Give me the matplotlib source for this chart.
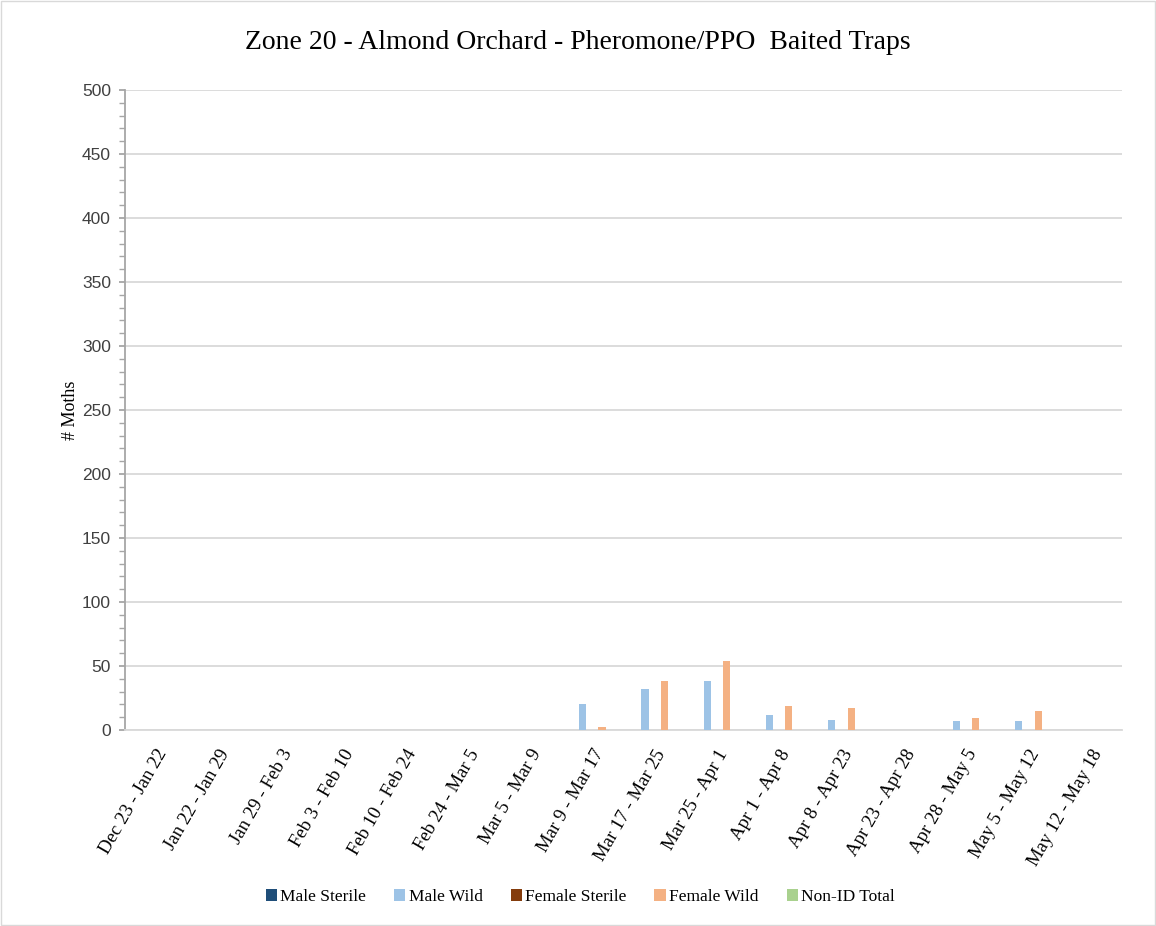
import matplotlib
matplotlib.use("Agg")
import matplotlib.pyplot as plt
import numpy as np
from matplotlib.ticker import MultipleLocator
from matplotlib.patches import Rectangle

categories = ["Dec 23 - Jan 22", "Jan 22 - Jan 29", "Jan 29 - Feb 3", "Feb 3 - Feb 10",
              "Feb 10 - Feb 24", "Feb 24 - Mar 5", "Mar 5 - Mar 9", "Mar 9 - Mar 17",
              "Mar 17 - Mar 25", "Mar 25 - Apr 1", "Apr 1 - Apr 8", "Apr 8 - Apr 23",
              "Apr 23 - Apr 28", "Apr 28 - May 5", "May 5 - May 12", "May 12 - May 18"]
male_sterile   = [0, 0, 0, 0, 0, 0, 0, 0, 0, 0, 0, 0, 0, 0, 0, 0]
male_wild      = [0, 0, 0, 0, 0, 0, 0, 20, 32, 38, 12, 8, 0, 7, 7, 0]
female_sterile = [0, 0, 0, 0, 0, 0, 0, 0, 0, 0, 0, 0, 0, 0, 0, 0]
female_wild    = [0, 0, 0, 0, 0, 0, 0, 2, 38, 54, 19, 17, 0, 9, 15, 0]
non_id_total   = [0, 0, 0, 0, 0, 0, 0, 0, 0, 0, 0, 0, 0, 0, 0, 0]

series = [("Male Sterile", male_sterile, "#1F4E79"),
          ("Male Wild", male_wild, "#9DC3E6"),
          ("Female Sterile", female_sterile, "#843C0C"),
          ("Female Wild", female_wild, "#F4B183"),
          ("Non-ID Total", non_id_total, "#A9D18E")]

fig = plt.figure(figsize=(11.56, 9.26), dpi=100)
fig.patches.append(Rectangle((0.001, 0.001), 0.998, 0.998, transform=fig.transFigure,
                             fill=False, edgecolor="#D9D9D9", linewidth=1))
ax = fig.add_axes([0.108, 0.2117, 0.8626, 0.6911])

x = np.arange(len(categories))
step = 0.155
width = 0.115
for i, (name, vals, col) in enumerate(series):
    ax.bar(x + (i - 2) * step, vals, width=width, color=col, label=name, zorder=3)

ax.set_xlim(-0.5, len(categories) - 0.5)
ax.set_ylim(0, 500)
ax.yaxis.set_major_locator(MultipleLocator(50))
ax.yaxis.set_minor_locator(MultipleLocator(10))
ax.grid(axis="y", which="major", color="#D9D9D9", linewidth=1.3, zorder=0)
for s in ["top", "right"]:
    ax.spines[s].set_visible(False)
ax.spines["left"].set_color("#A6A6A6")
ax.spines["left"].set_linewidth(1.3)
ax.spines["bottom"].set_color("#D9D9D9")
ax.spines["bottom"].set_linewidth(1.3)
ax.tick_params(axis="y", which="major", length=4, color="#A6A6A6", width=1.3,
               labelsize=12.5, labelcolor="#404040", pad=6)
ax.tick_params(axis="y", which="minor", length=4, color="#A6A6A6", width=1.0)
ax.tick_params(axis="x", length=0, pad=12)
for lab in ax.get_yticklabels():
    lab.set_fontfamily("Liberation Sans")

ax.set_xticks(x)
ax.set_xticklabels(categories, rotation=60, ha="right", rotation_mode="anchor",
                   fontfamily="Liberation Serif", fontsize=13.5, color="#000000")

ax.set_ylabel("# Moths", fontfamily="Liberation Serif", fontsize=13, labelpad=2)

fig.text(0.5, 0.954, "Zone 20 - Almond Orchard - Pheromone/PPO  Baited Traps",
         ha="center", va="center", fontfamily="Liberation Serif", fontsize=20)

leg = fig.legend(loc="center", bbox_to_anchor=(0.502, 0.031), ncol=5, frameon=False,
                 prop={"family": "Liberation Serif", "size": 12.5},
                 handlelength=0.65, handleheight=0.65, handletextpad=0.2, columnspacing=1.6)

fig.savefig("out.png", dpi=100)
